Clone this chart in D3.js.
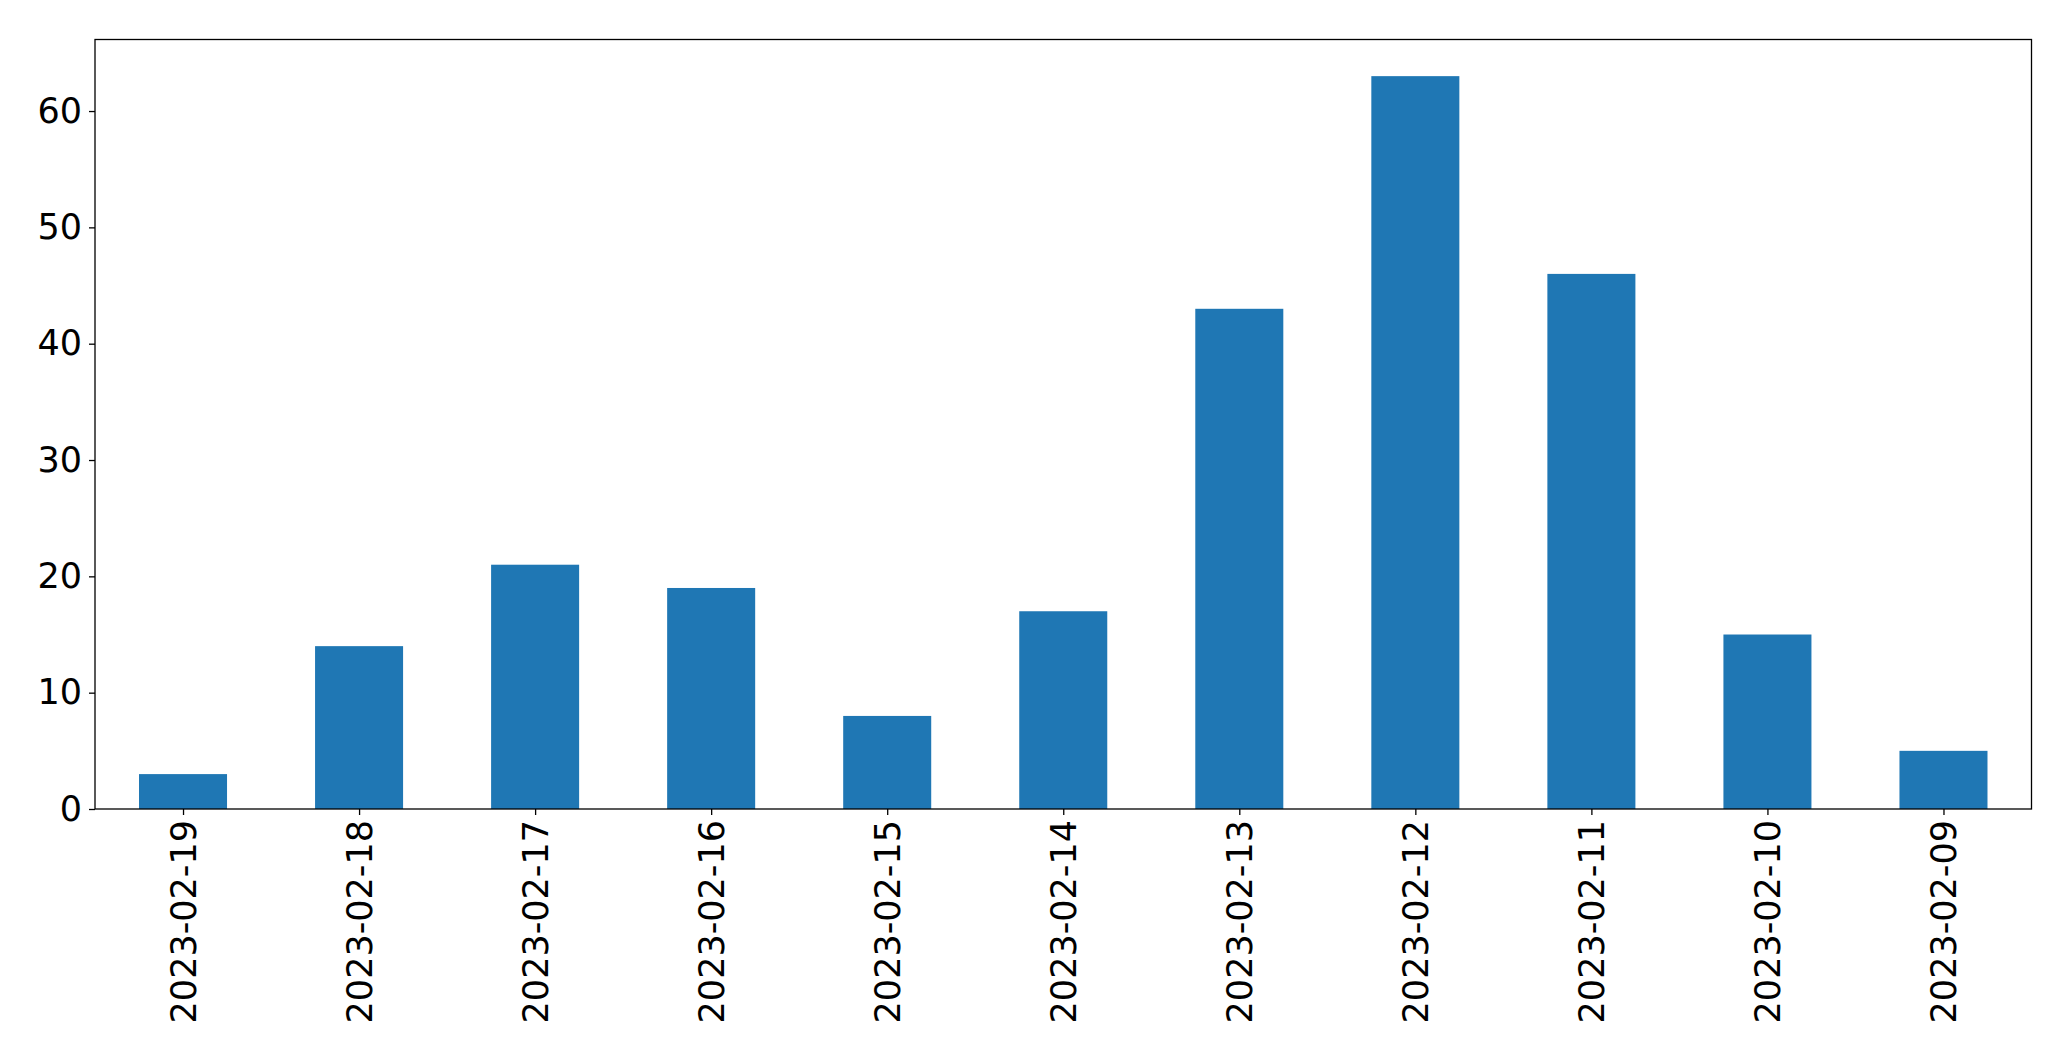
<!DOCTYPE html>
<html>
<head>
<meta charset="utf-8">
<script src="https://cdn.jsdelivr.net/npm/d3@7"></script>
<style>
  html, body { margin: 0; padding: 0; background: #fff; }
  svg { display: block; }
  text { font-family: "DejaVu Sans", sans-serif; }
</style>
</head>
<body>
<svg id="chart" width="2071" height="1061"></svg>
<script>
const categories = ["2023-02-19","2023-02-18","2023-02-17","2023-02-16","2023-02-15","2023-02-14","2023-02-13","2023-02-12","2023-02-11","2023-02-10","2023-02-09"];
const values = [3, 14, 21, 19, 8, 17, 43, 63, 46, 15, 5];
const yTicks = [0, 10, 20, 30, 40, 50, 60];

const W = 2071, H = 1061;
const margin = { left: 95, right: 2071 - 2031.5, top: 39.5, bottom: 1061 - 809 };
const svg = d3.select("#chart");
const innerW = W - margin.left - margin.right;
const innerH = H - margin.top - margin.bottom;
const g = svg.append("g").attr("transform", `translate(${margin.left},${margin.top})`);

const x = d3.scaleLinear().domain([-0.5, categories.length - 0.5]).range([0, innerW]);
const yMax = d3.max(values) * 1.05;
const y = d3.scaleLinear().domain([0, yMax]).range([innerH, 0]);
const barW = 0.5;

g.selectAll("rect.bar").data(values).enter().append("rect")
  .attr("class", "bar")
  .attr("x", (d, i) => x(i - barW / 2))
  .attr("width", (d, i) => x(i + barW / 2) - x(i - barW / 2))
  .attr("y", d => y(d))
  .attr("height", d => y(0) - y(d))
  .attr("fill", "#1f77b4");

const fontSize = 35;

// y axis
const yAxis = d3.axisLeft(y).tickValues(yTicks).tickSize(6).tickPadding(7).tickFormat(d3.format("d"));
const ya = g.append("g").call(yAxis);
ya.select(".domain").remove();
ya.selectAll(".tick line").attr("stroke", "#000").attr("stroke-width", 1.3);
ya.selectAll(".tick text").attr("font-size", fontSize).attr("fill", "#000")
  .attr("font-family", "DejaVu Sans, sans-serif");

// x axis
const xa = g.append("g").attr("transform", `translate(0,${innerH})`)
  .call(d3.axisBottom(x).tickValues(d3.range(categories.length)).tickSize(6).tickFormat(i => categories[i]));
xa.select(".domain").remove();
xa.selectAll(".tick line").attr("stroke", "#000").attr("stroke-width", 1.3);
xa.selectAll(".tick text")
  .attr("font-size", fontSize).attr("fill", "#000")
  .attr("font-family", "DejaVu Sans, sans-serif")
  .attr("text-anchor", "end")
  .attr("dy", null)
  .attr("y", 0)
  .attr("dominant-baseline", "central")
  .attr("transform", "translate(0,11) rotate(-90)");

// frame
g.append("rect").attr("x", 0).attr("y", 0).attr("width", innerW).attr("height", innerH)
  .attr("fill", "none").attr("stroke", "#000").attr("stroke-width", 1.3);
</script>
</body>
</html>
